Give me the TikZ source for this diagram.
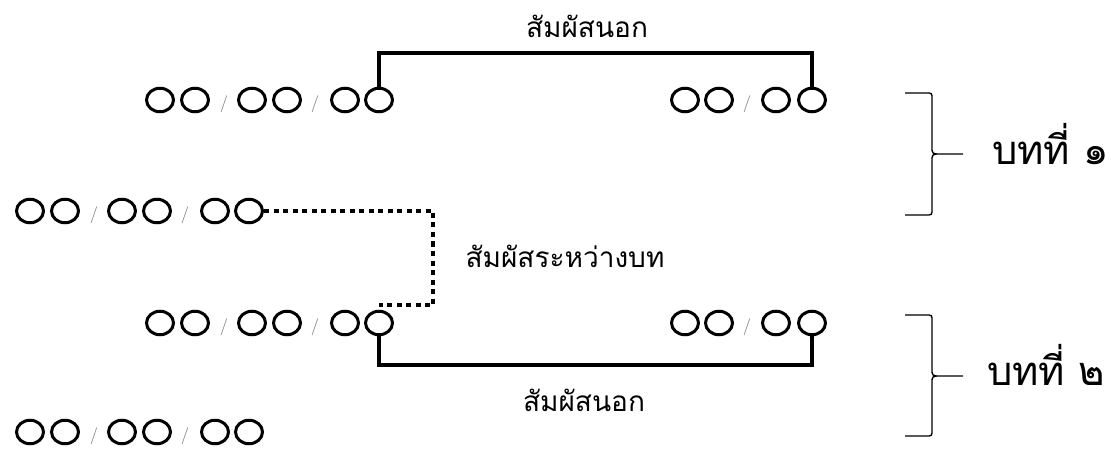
\documentclass[tikz,border=0pt]{standalone}
\usepackage{fontspec}
\newfontfamily\thaifont[Script=Thai]{Loma}
\usetikzlibrary{shapes.geometric}

\begin{document}
\begin{tikzpicture}[x=1pt,y=-1pt,
    syl/.style={draw,ellipse,line width=3pt,minimum width=27pt,minimum height=23.5pt,inner sep=0pt},
    cut/.style={inner sep=0pt,text=black!60,font=\fontsize{17}{17}\selectfont},
    word/.style={inner sep=0pt,anchor=base,font=\thaifont\fontsize{28}{30}\selectfont},
    verse/.style={inner sep=0pt,anchor=base west,font=\thaifont\fontsize{40}{44}\selectfont},
    rhyme/.style={line width=3.5pt},
    between/.style={line width=4.5pt,dash pattern=on 5pt off 4.5pt},
    curly/.style={line width=1.3pt}]
  \useasboundingbox (0,0) rectangle (1111,449);
  % long lines
  \foreach \row/\x/\y in {a/160/100,b/30/211,c/160/323,d/30/432} {
    \foreach \i/\dx in {1/0,2/35,3/92,4/127,5/185,6/219}
      \node[syl] (\row\i) at (\x+\dx,\y) {};
    \node[cut] (\row s1) at (\x+64,\y+4) {/};
    \node[cut] (\row s2) at (\x+155,\y+4) {/};
  }
  % short lines
  \foreach \row/\y in {ar/100,cr/323} {
    \foreach \i/\x in {1/685,2/719,3/776,4/812}
      \node[syl] (\row\i) at (\x,\y) {};
    \node[cut] (\row s) at (747,\y+4) {/};
  }
  \draw[rhyme] (a6.north) -- (a6.north |- 0,53) -- (ar4.north |- 0,53) -- (ar4.north);
  \draw[rhyme] (c6.south) -- (c6.south |- 0,365) -- (cr4.south |- 0,365) -- (cr4.south);
  \draw[between] (b6.east) -| (433,305) -- (c6.north |- 0,305);
  \node[word] (outer1) at (587,38) {สัมผัสนอก};
  \node[word] (link) at (565,267) {สัมผัสระหว่างบท};
  \node[word] (outer2) at (584,411) {สัมผัสนอก};
  % verses
  \draw[curly] (905,93) -- (926,93) .. controls (932,93) .. (932,99) -- (932,147)
    .. controls (932,154) .. (942,154) -- (963,154) (942,154) .. controls (932,154) .. (932,161)
    -- (932,209) .. controls (932,215) .. (926,215) -- (905,215);
  \draw[curly] (905,315) -- (926,315) .. controls (932,315) .. (932,321) -- (932,369)
    .. controls (932,376) .. (942,376) -- (963,376) (942,376) .. controls (932,376) .. (932,383)
    -- (932,430) .. controls (932,436) .. (926,436) -- (905,436);
  \node[verse] (verse1) at (992,165) {บทที่ ๑};
  \node[verse] (verse2) at (987,385) {บทที่ ๒};
\end{tikzpicture}
\end{document}
